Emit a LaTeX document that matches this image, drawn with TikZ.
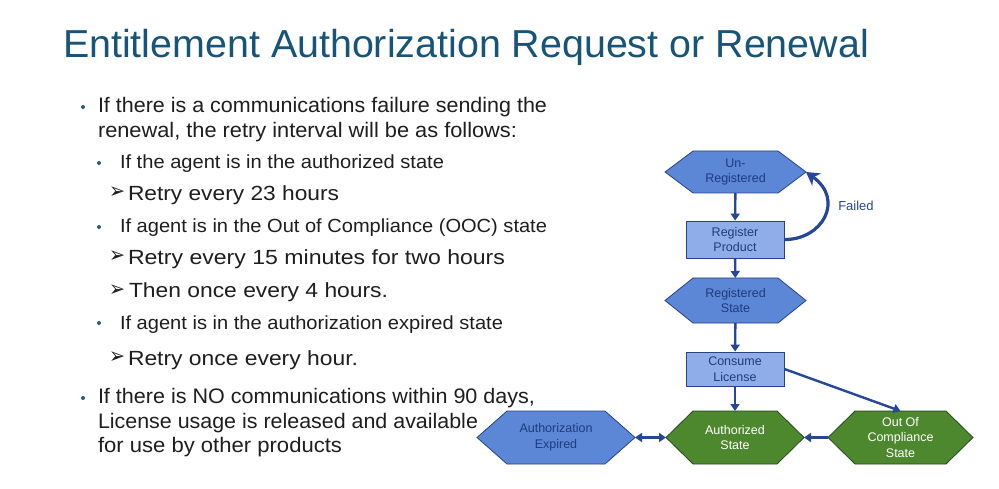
\documentclass[tikz,border=0pt]{standalone}
\usepackage{fontspec}
\usepackage{graphicx}
\setmainfont{Liberation Sans}
\newfontfamily\dejavu{DejaVu Sans}
\usetikzlibrary{arrows.meta,backgrounds}
\definecolor{titleblue}{RGB}{22,84,120}
\definecolor{bodytext}{RGB}{30,30,30}
\definecolor{dotblue}{RGB}{30,95,135}
\definecolor{hexblue}{RGB}{92,134,214}
\definecolor{rectblue}{RGB}{143,174,233}
\definecolor{edgeblue}{RGB}{40,66,130}
\definecolor{labelblue}{RGB}{30,60,125}
\definecolor{hexgreen}{RGB}{78,136,46}
\definecolor{edgegreen}{RGB}{40,70,30}
\definecolor{arrowblue}{RGB}{38,70,150}
\newcommand{\fitto}[2]{\resizebox{#1}{\height}{#2}}
\tikzset{
  txt/.style={inner sep=0pt, outer sep=0pt, anchor=base west, text=bodytext},
  lvlone/.style={txt, font=\fontsize{21}{25}\selectfont},
  lvltwo/.style={txt, font=\fontsize{19}{23}\selectfont},
  lvlarrow/.style={txt, font=\fontsize{20.5}{24}\selectfont},
  arrowglyph/.style={txt, font=\dejavu\fontsize{22}{24}\selectfont},
  dot/.style={circle, fill=dotblue, inner sep=0pt, minimum size=4pt},
  hexlabel/.style={inner sep=0pt, outer sep=0pt, align=center, font=\fontsize{12.5}{15.5}\selectfont},
  bluehexlabel/.style={hexlabel, text=labelblue},
  greenhexlabel/.style={hexlabel, text=white},
  bluehex/.style={fill=hexblue, draw=edgeblue, line width=0.8pt},
  greenhex/.style={fill=hexgreen, draw=edgegreen, line width=0.8pt},
  procbox/.style={rectangle, fill=rectblue, draw=edgeblue, line width=0.8pt, inner sep=0pt, align=center, text=labelblue, font=\fontsize{12.5}{15.5}\selectfont},
  conn/.style={draw=arrowblue, line width=2.4pt, -{Triangle[length=7pt,width=9pt]}},
  biconn/.style={draw=arrowblue, line width=2.4pt, {Triangle[length=7pt,width=9pt]}-{Triangle[length=7pt,width=9pt]}},
  failconn/.style={draw=arrowblue, line width=3.2pt, -{Stealth[length=13pt,width=15pt,inset=4pt]}},
}
\begin{document}
\begin{tikzpicture}[x=1pt,y=-1pt]
\useasboundingbox (0,0) rectangle (999,489);

% title
\node[txt, text=titleblue, font=\fontsize{39}{44}\selectfont] (title) at (63,58) {\fitto{806pt}{Entitlement Authorization Request or Renewal}};

% bullet list
\node[dot] (b1) at (83,107) {};
\node[lvlone] (l1) at (98,113) {\fitto{449pt}{If there is a communications failure sending the}};
\node[lvlone] (l2) at (98,138) {\fitto{419pt}{renewal, the retry interval will be as follows:}};
\node[dot] (b2) at (99,163) {};
\node[lvltwo] (l3) at (120,169) {\fitto{324pt}{If the agent is in the authorized state}};
\node[arrowglyph] (a1) at (109,199) {\fitto{16pt}{➢}};
\node[lvlarrow] (l4) at (128,201) {\fitto{211pt}{Retry every 23 hours}};
\node[dot] (b3) at (99,227) {};
\node[lvltwo] (l5) at (120,233) {\fitto{427pt}{If agent is in the Out of Compliance (OOC) state}};
\node[arrowglyph] (a2) at (109,263) {\fitto{16pt}{➢}};
\node[lvlarrow] (l6) at (128,265) {\fitto{377pt}{Retry every 15 minutes for two hours}};
\node[arrowglyph] (a3) at (109,296) {\fitto{16pt}{➢}};
\node[lvlarrow] (l7) at (129,298) {\fitto{259pt}{Then once every 4 hours.}};
\node[dot] (b4) at (99,323) {};
\node[lvltwo] (l8) at (120,329) {\fitto{383pt}{If agent is in the authorization expired state}};
\node[arrowglyph] (a4) at (109,363) {\fitto{16pt}{➢}};
\node[lvlarrow] (l9) at (128,365) {\fitto{230pt}{Retry once every hour.}};
\node[dot] (b5) at (83,398) {};
\node[lvlone] (l10) at (98,403) {\fitto{437pt}{If there is NO communications within 90 days,}};
\node[lvlone] (l11) at (98,428) {\fitto{380pt}{License usage is released and available}};
\node[lvlone] (l12) at (98,452) {\fitto{244pt}{for use by other products}};

% diagram nodes
\node[bluehexlabel, minimum width=141pt, minimum height=42pt] (unreg) at (735.5,172) {Un-\\Registered};
\node[procbox, minimum width=98pt, minimum height=37pt] (regprod) at (735,239.5) {Register\\Product};
\node[bluehexlabel, minimum width=141pt, minimum height=45pt] (regstate) at (735.5,300.5) {Registered\\State};
\node[procbox, minimum width=98pt, minimum height=34pt] (consume) at (735,369) {Consume\\License};
\node[bluehexlabel, minimum width=158pt, minimum height=53pt] (authexp) at (556,437.5) {Authorization\\Expired};
\node[greenhexlabel, minimum width=138pt, minimum height=53pt] (auth) at (735,437.5) {Authorized\\State};
\node[greenhexlabel, minimum width=145pt, minimum height=53pt] (ooc) at (900.5,437.5) {Out Of\\Compliance\\State};
\node[inner sep=0pt, text=arrowblue, font=\fontsize{13}{15}\selectfont] (failed) at (856,206) {Failed};

% hexagon bodies behind their labels
\begin{scope}[on background layer]
  \fill[white] (0,0) rectangle (999,489);
  \foreach \n/\i/\s in {unreg/28/bluehex, regstate/28/bluehex, authexp/30/bluehex, auth/27/greenhex, ooc/27/greenhex}
    \path[\s] (\n.west) -- ([xshift=\i pt]\n.north west) -- ([xshift=-\i pt]\n.north east) -- (\n.east)
      -- ([xshift=-\i pt]\n.south east) -- ([xshift=\i pt]\n.south west) -- cycle;
\end{scope}

% connectors
\draw[conn] (unreg) -- (regprod);
\draw[conn] (regprod) -- (regstate);
\draw[conn] (regstate) -- (consume);
\draw[conn] (consume) -- (auth);
\draw[conn] (consume.east) -- (ooc.north);
\draw[conn] (ooc.west) -- (auth.east);
\draw[biconn] (authexp.east) -- (auth.west);
\draw[failconn] (regprod.east) .. controls (822,240) and (845,200) .. (unreg.east);
\end{tikzpicture}
\end{document}
